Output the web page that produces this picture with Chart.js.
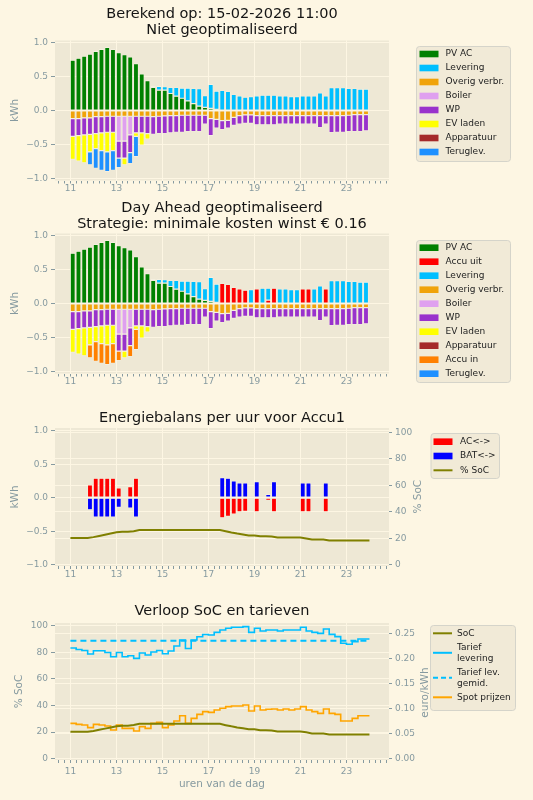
<!DOCTYPE html>
<html lang="nl">
<head>
    <meta charset="UTF-8">
    <title>Energiebalans Accu1</title>
    <script src="https://cdn.jsdelivr.net/npm/chart.js"></script>
    <style>
        html, body {
            margin: 0;
            padding: 0;
            background: #fdf6e3;
            overflow: hidden;
        }
        .wrap {
            position: relative;
            width: 533px;
            height: 800px;
        }
        .wrap canvas {
            position: absolute;
            left: 0;
        }
    </style>
</head>
<body>
<div class="wrap">
    <canvas id="c1" width="533" height="200" style="top:0px"></canvas>
    <canvas id="c2" width="533" height="200" style="top:193px"></canvas>
    <canvas id="c3" width="533" height="186" style="top:400px"></canvas>
    <canvas id="c4" width="533" height="207" style="top:593px"></canvas>
</div>
<script>
    // kwartieren 11:00 t/m 23:45 (balken) en 11:00 t/m 24:00 (lijnen)
    const hours = [11, 11.25, 11.5, 11.75, 12, 12.25, 12.5, 12.75, 13, 13.25, 13.5, 13.75, 14, 14.25, 14.5, 14.75,
        15, 15.25, 15.5, 15.75, 16, 16.25, 16.5, 16.75, 17, 17.25, 17.5, 17.75, 18, 18.25, 18.5, 18.75,
        19, 19.25, 19.5, 19.75, 20, 20.25, 20.5, 20.75, 21, 21.25, 21.5, 21.75, 22, 22.25, 22.5, 22.75,
        23, 23.25, 23.5, 23.75];
    const lineHours = [11, 11.25, 11.5, 11.75, 12, 12.25, 12.5, 12.75, 13, 13.25, 13.5, 13.75, 14, 14.25, 14.5, 14.75,
        15, 15.25, 15.5, 15.75, 16, 16.25, 16.5, 16.75, 17, 17.25, 17.5, 17.75, 18, 18.25, 18.5, 18.75,
        19, 19.25, 19.5, 19.75, 20, 20.25, 20.5, 20.75, 21, 21.25, 21.5, 21.75, 22, 22.25, 22.5, 22.75,
        23, 23.25, 23.5, 23.75, 24];
    const hourTicks = [11, 13, 15, 17, 19, 21, 23];
    const kwhTicks = [-1, -0.5, 0, 0.5, 1];
    const socTicks = [0, 20, 40, 60, 80, 100];
    const euroTicks = [0, 0.05, 0.10, 0.15, 0.20, 0.25];

    // energie per kwartier (kWh)
    const pvAC = [0.74, 0.77, 0.80, 0.83, 0.87, 0.90, 0.93, 0.90, 0.85, 0.82, 0.79, 0.69, 0.54, 0.44, 0.34, 0.30,
        0.30, 0.25, 0.21, 0.18, 0.14, 0.10, 0.065, 0.045, 0.03, 0.015, 0, 0, 0, 0, 0, 0,
        0, 0, 0, 0, 0, 0, 0, 0, 0, 0, 0, 0, 0, 0, 0, 0, 0, 0, 0, 0];
    const levering = [0, 0, 0, 0, 0, 0, 0, 0, 0, 0, 0, 0, 0, 0, 0.015, 0.055,
        0.05, 0.09, 0.13, 0.15, 0.19, 0.225, 0.255, 0.175, 0.355, 0.27, 0.295, 0.28, 0.235, 0.215, 0.195, 0.205,
        0.215, 0.225, 0.225, 0.225, 0.215, 0.215, 0.205, 0.205, 0.215, 0.215, 0.215, 0.26, 0.215, 0.335, 0.335, 0.335,
        0.325, 0.325, 0.315, 0.315];
    const leveringOpt = [0, 0, 0, 0, 0, 0, 0, 0, 0, 0, 0, 0, 0, 0, 0.015, 0.055,
        0.05, 0.09, 0.13, 0.15, 0.19, 0.225, 0.255, 0.175, 0.355, 0.27, 0, 0, 0, 0, 0, 0.205,
        0, 0.225, 0.175, 0, 0.215, 0.215, 0.205, 0.205, 0, 0, 0.215, 0.26, 0, 0.335, 0.335, 0.335,
        0.325, 0.325, 0.315, 0.315];
    const accuUit = [0, 0, 0, 0, 0, 0, 0, 0, 0, 0, 0, 0, 0, 0, 0, 0,
        0, 0, 0, 0, 0, 0, 0, 0, 0, 0, 0.295, 0.28, 0.235, 0.215, 0.195, 0,
        0.215, 0, 0.05, 0.225, 0, 0, 0, 0, 0.215, 0.215, 0, 0, 0.215, 0, 0, 0,
        0, 0, 0, 0];
    const overigVerbr = [-0.12, -0.12, -0.11, -0.11, -0.09, -0.09, -0.085, -0.085, -0.085, -0.085, -0.085, -0.085, -0.085, -0.085, -0.09, -0.085,
        -0.08, -0.075, -0.075, -0.07, -0.07, -0.07, -0.07, -0.07, -0.12, -0.13, -0.15, -0.145, -0.10, -0.075, -0.065, -0.065,
        -0.075, -0.075, -0.075, -0.075, -0.075, -0.075, -0.075, -0.075, -0.075, -0.075, -0.075, -0.075, -0.075, -0.075, -0.075, -0.075,
        -0.07, -0.06, -0.06, -0.06];
    const boiler = [0, 0, 0, 0, 0, 0, 0, 0, -0.365, -0.365, -0.275, 0, 0, 0, 0, 0,
        0, 0, 0, 0, 0, 0, 0, 0, 0, 0, 0, 0, 0, 0, 0, 0,
        0, 0, 0, 0, 0, 0, 0, 0, 0, 0, 0, 0, 0, 0, 0, 0, 0, 0, 0, 0];
    const wp = [-0.26, -0.25, -0.25, -0.24, -0.25, -0.24, -0.235, -0.235, -0.25, -0.25, -0.26, -0.245, -0.245, -0.255, -0.26, -0.255,
        -0.26, -0.255, -0.245, -0.25, -0.24, -0.24, -0.24, -0.13, -0.25, -0.13, -0.13, -0.115, -0.12, -0.125, -0.125, -0.125,
        -0.135, -0.135, -0.135, -0.135, -0.125, -0.125, -0.125, -0.125, -0.125, -0.125, -0.125, -0.175, -0.125, -0.25, -0.245, -0.245,
        -0.24, -0.25, -0.25, -0.24];
    const evLaden = [-0.34, -0.375, -0.41, -0.26, -0.22, -0.26, -0.29, -0.27, 0, -0.10, 0, -0.05, -0.18, -0.08, 0, 0,
        0, 0, 0, 0, 0, 0, 0, 0, 0, 0, 0, 0, 0, 0, 0, 0,
        0, 0, 0, 0, 0, 0, 0, 0, 0, 0, 0, 0, 0, 0, 0, 0, 0, 0, 0, 0];
    const apparatuur = [0, 0, 0, 0, 0, 0, 0, 0, 0, 0, 0, 0, 0, 0, 0, 0,
        0, 0, 0, 0, 0, 0, 0, 0, 0, 0, 0, 0, 0, 0, 0, 0,
        0, 0, 0, 0, 0, 0, 0, 0, 0, 0, 0, 0, 0, 0, 0, 0, 0, 0, 0, 0];
    const teruglev = [0, 0, 0, -0.19, -0.29, -0.29, -0.29, -0.29, -0.14, 0, -0.16, -0.30, 0, 0, 0, 0,
        0, 0, 0, 0, 0, 0, 0, 0, 0, 0, 0, 0, 0, 0, 0, 0,
        0, 0, 0, 0, 0, 0, 0, 0, 0, 0, 0, 0, 0, 0, 0, 0, 0, 0, 0, 0];
    const accuIn = [0, 0, 0, -0.19, -0.29, -0.29, -0.29, -0.29, -0.14, 0, -0.16, -0.30, 0, 0, 0, 0,
        0, 0, 0, 0, 0, 0, 0, 0, 0, 0, 0, 0, 0, 0, 0, 0,
        0, 0, 0, 0, 0, 0, 0, 0, 0, 0, 0, 0, 0, 0, 0, 0, 0, 0, 0, 0];
    const teruglevOpt = [0, 0, 0, 0, 0, 0, 0, 0, 0, 0, 0, 0, 0, 0, 0, 0,
        0, 0, 0, 0, 0, 0, 0, 0, 0, 0, 0, 0, 0, 0, 0, 0,
        0, 0, 0, 0, 0, 0, 0, 0, 0, 0, 0, 0, 0, 0, 0, 0, 0, 0, 0, 0];

    // Accu1
    const acFlow = [0, 0, 0, 0.19, 0.29, 0.29, 0.29, 0.29, 0.145, 0, 0.165, 0.29, 0, 0, 0, 0,
        0, 0, 0, 0, 0, 0, 0, 0, 0, 0, -0.30, -0.28, -0.245, -0.21, -0.205, 0,
        -0.21, 0, -0.04, -0.21, 0, 0, 0, 0, -0.21, -0.21, 0, 0, -0.21, 0, 0, 0, 0, 0, 0, 0];
    const batFlow = [0, 0, 0, -0.18, -0.29, -0.29, -0.29, -0.29, -0.145, 0, -0.155, -0.29, 0, 0, 0, 0,
        0, 0, 0, 0, 0, 0, 0, 0, 0, 0, 0.30, 0.29, 0.25, 0.22, 0.22, 0,
        0.24, 0, 0.05, 0.24, 0, 0, 0, 0, 0.22, 0.22, 0, 0, 0.22, 0, 0, 0, 0, 0, 0, 0];
    const soc = [20.2, 20.2, 20.2, 20.2, 20.8, 21.7, 22.6, 23.5, 24.4, 24.8, 24.8, 25.3, 26.2, 26.2, 26.2, 26.2,
        26.2, 26.2, 26.2, 26.2, 26.2, 26.2, 26.2, 26.2, 26.2, 26.2, 26.2, 25.2, 24.3, 23.5, 22.8, 22.1,
        22.1, 21.4, 21.4, 21.2, 20.5, 20.5, 20.5, 20.5, 20.5, 19.8, 19.0, 19.0, 19.0, 18.2, 18.2, 18.2,
        18.2, 18.2, 18.2, 18.2, 18.2];

    // tarieven (euro/kWh)
    const tariefLevering = [0.222, 0.219, 0.217, 0.210, 0.2165, 0.2165, 0.213, 0.2045, 0.213, 0.2045, 0.2065, 0.201, 0.212, 0.208, 0.214, 0.217,
        0.2105, 0.216, 0.226, 0.238, 0.221, 0.238, 0.2445, 0.249, 0.248, 0.2533, 0.258, 0.2614, 0.2634, 0.2634, 0.2647, 0.2533,
        0.2614, 0.256, 0.258, 0.258, 0.256, 0.258, 0.258, 0.258, 0.2634, 0.256, 0.2533, 0.2513, 0.26, 0.2493, 0.2447, 0.2313,
        0.2293, 0.2346, 0.24, 0.24, 0.24];
    const tariefGemid = 0.2366;
    const spotPrijzen = [0.0709, 0.0689, 0.0675, 0.0622, 0.0689, 0.0675, 0.0655, 0.0575, 0.0675, 0.0608, 0.0608, 0.0555, 0.0642, 0.0608, 0.0709, 0.0729,
        0.0622, 0.0675, 0.0755, 0.0862, 0.0709, 0.0809, 0.0889, 0.0943, 0.0929, 0.0976, 0.101, 0.1043, 0.1056, 0.1056, 0.1076, 0.0956,
        0.1056, 0.0976, 0.099, 0.0996, 0.0976, 0.0996, 0.0976, 0.0996, 0.1043, 0.0976, 0.0943, 0.0909, 0.0996, 0.0909, 0.0889, 0.0755,
        0.0755, 0.0809, 0.0862, 0.0862, 0.0862];

    const COL = {
        pv: '#008000', lev: '#00bfff', overig: '#f0a30a', boiler: '#dfa0ef', wp: '#9932cc',
        ev: '#ffff00', app: '#a52a2a', terug: '#1e90ff', accuUit: '#ff0000', accuIn: '#ff8000',
        ac: '#ff0000', bat: '#0000ff', soc: '#808000', spot: '#ffa500'
    };
    const GRID = '#fdf6e3';
    const TICK = '#869aa0';
    const EDGE = 'rgba(253,248,235,0.85)';
    const X_MIN = 10.33, X_MAX = 24.85;
    const BAR_SHIFT = 0.1; // balken staan met de linkerkant op het kwartier

    Chart.defaults.font.family = '"DejaVu Sans", sans-serif';
    Chart.defaults.color = TICK;
    Chart.defaults.animation = false;

    const quarterTicks = [];
    for (let q = 42; q <= 99; q++) quarterTicks.push(q / 4);

    const fmtKwh = v => v < 0 ? '\u2212' + Math.abs(v).toFixed(1) : v.toFixed(1);
    const barPts = vals => hours.map((t, i) => ({ x: t + BAR_SHIFT, y: vals[i] }));
    const linePts = vals => lineHours.map((t, i) => ({ x: t, y: vals[i] }));

    function bar(label, color, vals) {
        return {
            label: label, data: barPts(vals), backgroundColor: color,
            borderColor: EDGE, borderWidth: 0.6, borderSkipped: false,
            barPercentage: 1, categoryPercentage: 0.88
        };
    }

    function xAxis(height, titleText, pad) {
        return {
            type: 'linear', min: X_MIN, max: X_MAX, offset: false, stacked: true,
            grid: {
                offset: false,
                color: c => (c.tick && hourTicks.includes(c.tick.value)) ? GRID : 'rgba(0,0,0,0)',
                tickColor: TICK, tickLength: 3
            },
            border: { display: false },
            afterBuildTicks: ax => { ax.ticks = quarterTicks.map(v => ({ value: v })); },
            ticks: {
                autoSkip: false, maxRotation: 0, padding: pad, color: TICK, font: { size: 9 },
                callback: v => hourTicks.includes(v) ? String(v) : ''
            },
            title: titleText
                ? { display: true, text: titleText, color: TICK, font: { size: 10.5 }, padding: { top: 0, bottom: 9 } }
                : { display: false },
            afterFit: ax => { ax.height = height; }
        };
    }

    function yAxis(o) {
        return {
            type: 'linear', position: o.position || 'left', min: o.min, max: o.max, stacked: !!o.stacked,
            grid: { color: GRID, tickColor: TICK, tickLength: o.tickLength || 4 },
            border: { display: false },
            afterBuildTicks: ax => { ax.ticks = o.ticks.map(v => ({ value: v })); },
            ticks: { padding: 3, color: TICK, font: { size: 9 }, callback: o.format },
            title: o.title
                ? { display: true, text: o.title, color: TICK, font: { size: 10.5 }, padding: { top: o.titlePad, bottom: 0 } }
                : { display: false },
            afterFit: ax => { ax.width = o.width; }
        };
    }

    const plotBg = {
        id: 'plotBg',
        beforeDraw(chart) {
            const { ctx, chartArea: a } = chart;
            ctx.save();
            ctx.fillStyle = '#eee8d5';
            ctx.fillRect(a.left, a.top, a.width, a.height);
            ctx.restore();
        }
    };

    // legenda in matplotlib-stijl, rechts naast de grafiek
    function boxLegend(id, cfg) {
        return {
            id: id,
            afterDraw(chart) {
                const ctx = chart.ctx;
                ctx.save();
                ctx.beginPath();
                if (ctx.roundRect) ctx.roundRect(cfg.x + 0.5, cfg.y + 0.5, cfg.w, cfg.h, 3);
                else ctx.rect(cfg.x + 0.5, cfg.y + 0.5, cfg.w, cfg.h);
                ctx.fillStyle = 'rgba(238,232,213,0.85)';
                ctx.fill();
                ctx.lineWidth = 1;
                ctx.strokeStyle = 'rgba(210,208,200,0.9)';
                ctx.stroke();
                ctx.font = '9px "DejaVu Sans"';
                ctx.textBaseline = 'middle';
                let cy = cfg.first;
                cfg.items.forEach(it => {
                    const lines = Array.isArray(it.label) ? it.label : [it.label];
                    const sy = cy + (lines.length - 1) * 11 / 2;
                    if (it.kind === 'line') {
                        ctx.strokeStyle = it.color;
                        ctx.lineWidth = 2;
                        ctx.setLineDash(it.dash || []);
                        ctx.beginPath();
                        ctx.moveTo(cfg.swX, sy);
                        ctx.lineTo(cfg.swX + cfg.swW, sy);
                        ctx.stroke();
                        ctx.setLineDash([]);
                    } else {
                        ctx.fillStyle = it.color;
                        ctx.fillRect(cfg.swX, sy - 3.3, cfg.swW, 6.6);
                    }
                    ctx.fillStyle = '#222';
                    lines.forEach((t, i) => ctx.fillText(t, cfg.textX, cy + i * 11));
                    cy += (lines.length - 1) * 11 + cfg.step;
                });
                ctx.restore();
            }
        };
    }

    // rechter as-titel, van onder naar boven gelezen
    function sideTitle(id, text, x, y) {
        return {
            id: id,
            afterDraw(chart) {
                const ctx = chart.ctx;
                ctx.save();
                ctx.translate(x, y);
                ctx.rotate(-Math.PI / 2);
                ctx.font = '10.5px "DejaVu Sans"';
                ctx.fillStyle = TICK;
                ctx.textAlign = 'center';
                ctx.textBaseline = 'middle';
                ctx.fillText(text, 0, 0);
                ctx.restore();
            }
        };
    }

    function titleOpt(text, top, bottom) {
        return {
            display: true, text: text, color: '#151515', fullSize: false,
            font: { size: 14.5, weight: 'normal', lineHeight: 1.12 },
            padding: { top: top, bottom: bottom }
        };
    }

    const barLegendItems1 = [
        { label: 'PV AC', color: COL.pv }, { label: 'Levering', color: COL.lev },
        { label: 'Overig verbr.', color: COL.overig }, { label: 'Boiler', color: COL.boiler },
        { label: 'WP', color: COL.wp }, { label: 'EV laden', color: COL.ev },
        { label: 'Apparatuur', color: COL.app }, { label: 'Teruglev.', color: COL.terug }
    ];
    const barLegendItems2 = [
        { label: 'PV AC', color: COL.pv }, { label: 'Accu uit', color: COL.accuUit },
        { label: 'Levering', color: COL.lev }, { label: 'Overig verbr.', color: COL.overig },
        { label: 'Boiler', color: COL.boiler }, { label: 'WP', color: COL.wp },
        { label: 'EV laden', color: COL.ev }, { label: 'Apparatuur', color: COL.app },
        { label: 'Accu in', color: COL.accuIn }, { label: 'Teruglev.', color: COL.terug }
    ];

    // 1. niet geoptimaliseerd
    new Chart(document.getElementById('c1'), {
        type: 'bar',
        data: {
            datasets: [
                bar('PV AC', COL.pv, pvAC),
                bar('Levering', COL.lev, levering),
                bar('Overig verbr.', COL.overig, overigVerbr),
                bar('Boiler', COL.boiler, boiler),
                bar('WP', COL.wp, wp),
                bar('EV laden', COL.ev, evLaden),
                bar('Apparatuur', COL.app, apparatuur),
                bar('Teruglev.', COL.terug, teruglev)
            ]
        },
        options: {
            responsive: false,
            layout: { padding: { left: 0, right: 144, top: 0, bottom: 0 } },
            plugins: {
                legend: { display: false },
                tooltip: { enabled: false },
                title: titleOpt(['Berekend op: 15-02-2026 11:00', 'Niet geoptimaliseerd'], 6, 2)
            },
            scales: {
                x: xAxis(19.5, null, 0),
                y: yAxis({ min: -1.03, max: 1.03, stacked: true, ticks: kwhTicks, format: fmtKwh, title: 'kWh', titlePad: 9.4, width: 55 })
            }
        },
        plugins: [plotBg, boxLegend('leg1', { x: 416, y: 46, w: 94, h: 115, first: 54, step: 14, swX: 419.5, swW: 19, textX: 445.5, items: barLegendItems1 })]
    });

    // 2. day ahead geoptimaliseerd
    new Chart(document.getElementById('c2'), {
        type: 'bar',
        data: {
            datasets: [
                bar('PV AC', COL.pv, pvAC),
                bar('Accu uit', COL.accuUit, accuUit),
                bar('Levering', COL.lev, leveringOpt),
                bar('Overig verbr.', COL.overig, overigVerbr),
                bar('Boiler', COL.boiler, boiler),
                bar('WP', COL.wp, wp),
                bar('EV laden', COL.ev, evLaden),
                bar('Apparatuur', COL.app, apparatuur),
                bar('Accu in', COL.accuIn, accuIn),
                bar('Teruglev.', COL.terug, teruglevOpt)
            ]
        },
        options: {
            responsive: false,
            layout: { padding: { left: 0, right: 144, top: 0, bottom: 0 } },
            plugins: {
                legend: { display: false },
                tooltip: { enabled: false },
                title: titleOpt(['Day Ahead geoptimaliseerd', 'Strategie: minimale kosten winst \u20ac 0.16'], 7, 1)
            },
            scales: {
                x: xAxis(19.5, null, 0),
                y: yAxis({ min: -1.03, max: 1.03, stacked: true, ticks: kwhTicks, format: fmtKwh, title: 'kWh', titlePad: 9.4, width: 55 })
            }
        },
        plugins: [plotBg, boxLegend('leg2', { x: 416, y: 47, w: 94, h: 142, first: 54.7, step: 14, swX: 419.5, swW: 19, textX: 445.5, items: barLegendItems2 })]
    });

    // 3. energiebalans accu
    new Chart(document.getElementById('c3'), {
        type: 'bar',
        data: {
            datasets: [
                bar('AC<->', COL.ac, acFlow),
                bar('BAT<->', COL.bat, batFlow),
                {
                    type: 'line', label: '% SoC', data: linePts(soc), yAxisID: 'y2',
                    borderColor: COL.soc, borderWidth: 2, pointRadius: 0, tension: 0
                }
            ]
        },
        options: {
            responsive: false,
            layout: { padding: { left: 0, right: 99, top: 0, bottom: 0 } },
            plugins: {
                legend: { display: false },
                tooltip: { enabled: false },
                title: titleOpt('Energiebalans per uur voor Accu1', 10, 1.76)
            },
            scales: {
                x: xAxis(20, null, 0),
                y: yAxis({ min: -1.02, max: 1.04, stacked: true, ticks: kwhTicks, format: fmtKwh, title: 'kWh', titlePad: 8.7, width: 55 }),
                y2: yAxis({ position: 'right', min: -1, max: 103.2, ticks: socTicks, format: v => String(v), tickLength: 3, width: 45 })
            }
        },
        plugins: [plotBg, sideTitle('side3', '% SoC', 418, 96.7),
            boxLegend('leg3', {
                x: 430.5, y: 33, w: 68.5, h: 45, first: 41.7, step: 14.3, swX: 433.5, swW: 19, textX: 460,
                items: [
                    { label: 'AC<->', color: COL.ac },
                    { label: 'BAT<->', color: COL.bat },
                    { label: '% SoC', color: COL.soc, kind: 'line' }
                ]
            })]
    });

    // 4. verloop SoC en tarieven
    new Chart(document.getElementById('c4'), {
        type: 'line',
        data: {
            datasets: [
                { label: 'SoC', data: linePts(soc), yAxisID: 'y', borderColor: COL.soc, borderWidth: 2, pointRadius: 0, tension: 0 },
                { label: 'Tarief levering', data: linePts(tariefLevering), yAxisID: 'y2', borderColor: COL.lev, borderWidth: 1.6, pointRadius: 0, stepped: true },
                { label: 'Tarief lev. gemid.', data: [{ x: 11, y: tariefGemid }, { x: 24, y: tariefGemid }], yAxisID: 'y2', borderColor: COL.lev, borderWidth: 2, borderDash: [6, 4], pointRadius: 0 },
                { label: 'Spot prijzen', data: linePts(spotPrijzen), yAxisID: 'y2', borderColor: COL.spot, borderWidth: 1.6, pointRadius: 0, stepped: true }
            ]
        },
        options: {
            responsive: false,
            layout: { padding: { left: 0, right: 99, top: 0, bottom: 0 } },
            plugins: {
                legend: { display: false },
                tooltip: { enabled: false },
                title: titleOpt('Verloop SoC en tarieven', 10, 3.76)
            },
            scales: {
                x: xAxis(40, 'uren van de dag', 3),
                y: yAxis({ min: -1, max: 102, ticks: socTicks, format: v => String(v), title: '% SoC', titlePad: 12.7, width: 55 }),
                y2: yAxis({ position: 'right', min: -0.0026, max: 0.272, ticks: euroTicks, format: v => v.toFixed(2), tickLength: 3, width: 45 })
            }
        },
        plugins: [plotBg, sideTitle('side4', 'euro/kWh', 425, 99.5),
            boxLegend('leg4', {
                x: 430, y: 32, w: 85, h: 85, first: 40.3, step: 14, swX: 433, swW: 19, textX: 457,
                items: [
                    { label: 'SoC', color: COL.soc, kind: 'line' },
                    { label: ['Tarief', 'levering'], color: COL.lev, kind: 'line' },
                    { label: ['Tarief lev.', 'gemid.'], color: COL.lev, kind: 'line', dash: [5, 3] },
                    { label: 'Spot prijzen', color: COL.spot, kind: 'line' }
                ]
            })]
    });
</script>
</body>
</html>
